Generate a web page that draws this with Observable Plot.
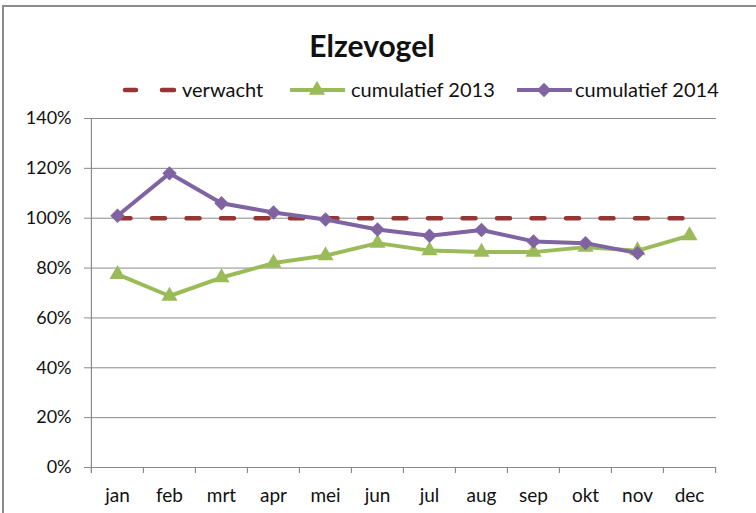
<!DOCTYPE html>
<html><head><meta charset="utf-8">
<script src="https://cdn.jsdelivr.net/npm/d3@7"></script>
<script src="https://cdn.jsdelivr.net/npm/@observablehq/plot@0.6"></script>
<style>
body{margin:0;background:#fff;font-family:Lato,"Open Sans",sans-serif;}
#wrap{position:relative;width:756px;height:513px;overflow:hidden;background:#fff;}
#frame{position:absolute;left:2px;top:5px;width:800px;height:560px;border-left:2px solid #8a8a8a;border-top:2px solid #8a8a8a;}
#head{position:absolute;left:0;top:0;}
#chart{position:absolute;left:0;top:105px;}
</style></head><body>
<div id="wrap">
<div id="frame"></div>
<svg id="head" width="756" height="105" font-family="Lato, 'Open Sans', sans-serif" fill="#111">
  <text x="372" y="57" text-anchor="middle" font-weight="bold" font-size="30">Elzevogel</text>
  <g id="legend"></g>
</svg>
<div id="chart"></div>
</div>
<script>
const months = ["jan","feb","mrt","apr","mei","jun","jul","aug","sep","okt","nov","dec"];
const verwacht = [1,1,1,1,1,1,1,1,1,1,1,1];
const cumulatief2013 = [0.775,0.688,0.762,0.82,0.85,0.90,0.87,0.864,0.864,0.884,0.87,0.93];
const cumulatief2014 = [1.01,1.18,1.06,1.023,0.995,0.955,0.93,0.953,0.907,0.90,0.86];
const yTicks = [0,0.2,0.4,0.6,0.8,1.0,1.2,1.4];
const seriesNames = ["verwacht","cumulatief 2013","cumulatief 2014"];
const colors = {"verwacht":"#963634","cumulatief 2013":"#9BBB59","cumulatief 2014":"#8064A2"};

const rows = (vals, name) => vals.map((v,i)=>({month: months[i], value: v, series: name}));
const dVer = rows(verwacht, seriesNames[0]);
const d13 = rows(cumulatief2013, seriesNames[1]);
const d14 = rows(cumulatief2014, seriesNames[2]);

const W = 756, H = 408, mL = 90, mR = 40, mT = 13, mB = 46;
const step = (W - mL - mR) / months.length;
const gray = "#8a8a8a";

const chart = Plot.plot({
  width: W, height: H,
  marginLeft: mL, marginRight: mR, marginTop: mT, marginBottom: mB,
  style: {fontFamily: "Lato, 'Open Sans', sans-serif", color: "#111", background: "transparent", overflow: "visible"},
  x: {type: "point", domain: months, padding: 0.5, label: null},
  y: {domain: [0, 1.4], label: null},
  marks: [
    Plot.gridY(yTicks.filter(v => v > 0), {stroke: gray, strokeOpacity: 1, strokeWidth: 1}),
    Plot.ruleY([0], {stroke: gray, strokeWidth: 1.2}),
    Plot.ruleX(["jan"], {dx: -step/2, stroke: gray, strokeWidth: 1.2, insetBottom: -6}),
    Plot.ruleX(months, {x: d => d, y1: 0, y2: 0, dx: -step/2, insetBottom: -6, stroke: gray, strokeWidth: 1.2}),
    Plot.ruleX(["dec"], {x: d => d, y1: 0, y2: 0, dx: step/2, insetBottom: -6, stroke: gray, strokeWidth: 1.2}),
    Plot.axisY({ticks: yTicks, tickFormat: d3.format(".0%"), tickSize: 6, tickPadding: 13, fontSize: 18, stroke: gray, fill: "#111", label: null}),
    Plot.axisX({tickSize: 0, tickPadding: 21, fontSize: 19, fill: "#111", label: null}),
    Plot.line(dVer, {x: "month", y: "value", stroke: colors["verwacht"], strokeWidth: 4.5, strokeDasharray: "13,21.5", strokeLinecap: "round"}),
    Plot.line(d13, {x: "month", y: "value", stroke: colors["cumulatief 2013"], strokeWidth: 4}),
    Plot.dot(d13, {x: "month", y: "value", symbol: "triangle", r: 6, fill: colors["cumulatief 2013"], stroke: "none"}),
    Plot.line(d14, {x: "month", y: "value", stroke: colors["cumulatief 2014"], strokeWidth: 4}),
    Plot.dot(d14, {x: "month", y: "value", symbol: "diamond2", r: 6.5, fill: colors["cumulatief 2014"], stroke: "none"})
  ]
});
document.getElementById("chart").appendChild(chart);

// legend
const ns = "http://www.w3.org/2000/svg";
const lg = document.getElementById("legend");
function el(tag, attrs, text){ const e = document.createElementNS(ns, tag); for (const k in attrs) e.setAttribute(k, attrs[k]); if (text) e.textContent = text; lg.appendChild(e); return e; }
const ly = 90;
el("line", {x1:125, x2:136, y1:ly, y2:ly, stroke: colors["verwacht"], "stroke-width":4.5, "stroke-linecap":"round"});
el("line", {x1:162, x2:174, y1:ly, y2:ly, stroke: colors["verwacht"], "stroke-width":4.5, "stroke-linecap":"round"});
el("text", {x:182, y:97, "font-size":20}, seriesNames[0]);
el("line", {x1:290, x2:345, y1:ly, y2:ly, stroke: colors["cumulatief 2013"], "stroke-width":4});
el("path", {d: d3.symbol(d3.symbolTriangle, Math.PI*36)(), transform:`translate(317,${ly})`, fill: colors["cumulatief 2013"]});
el("text", {x:351, y:97, "font-size":20}, seriesNames[1]);
el("line", {x1:517, x2:572, y1:ly, y2:ly, stroke: colors["cumulatief 2014"], "stroke-width":4});
el("path", {d: d3.symbol(d3.symbolDiamond2, Math.PI*42)(), transform:`translate(544,${ly})`, fill: colors["cumulatief 2014"]});
el("text", {x:575, y:97, "font-size":20}, seriesNames[2]);
</script>
</body></html>
